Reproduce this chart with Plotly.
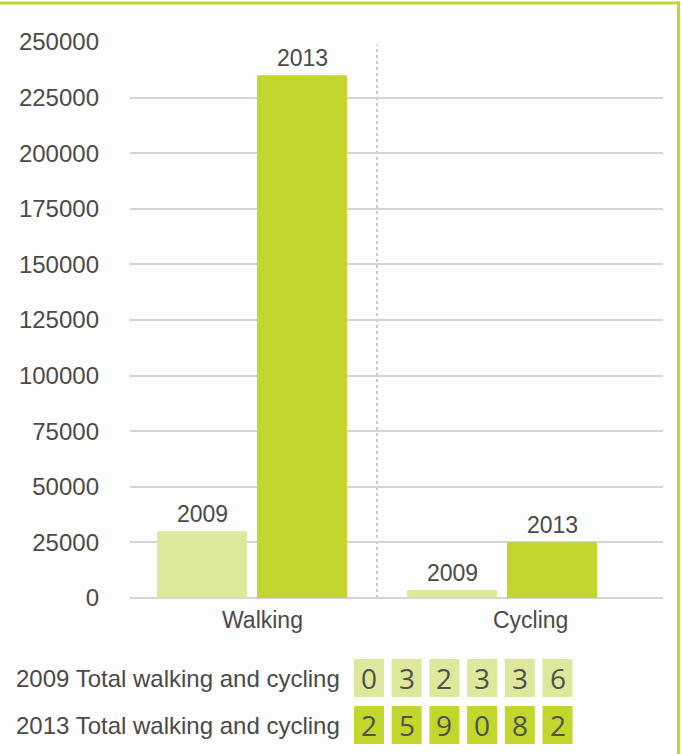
import plotly.graph_objects as go

categories = ["Walking", "Cycling"]
years = ["2009", "2013"]
values_2009 = [30000, 3600]
values_2013 = [235000, 25100]
y_ticks = [0, 25000, 50000, 75000, 100000, 125000, 150000, 175000, 200000, 225000, 250000]
total_labels = ["2009 Total walking and cycling", "2013 Total walking and cycling"]
total_digits = ["032336", "259082"]

LIGHT = "#dde89c"
DARK = "#c2d62e"
TXT = "#4a4a4a"
FONT = "Liberation Sans, Arial, sans-serif"
FS = 23

W, H = 682, 754
L, R, T, B = 130, 19, 42, 156
PW, PH = W - L - R, H - T - B


def px(x):
    return (x - L) / PW


def py(y):
    return (H - B - y) / PH


xs = list(range(len(categories)))
fig = go.Figure()
for name, vals, col in [(years[0], values_2009, LIGHT), (years[1], values_2013, DARK)]:
    fig.add_trace(go.Bar(x=xs, y=vals, name=name, marker=dict(color=col, line=dict(width=0)),
                         hoverinfo="y"))

annotations = []
# year labels above bars
for j, (name, vals) in enumerate([(years[0], values_2009), (years[1], values_2013)]):
    off = -0.2 if j == 0 else 0.2
    for i, v in enumerate(vals):
        annotations.append(dict(x=xs[i] + off, y=v, xref="x", yref="y", text=name,
                                showarrow=False, yanchor="bottom", yshift=2,
                                font=dict(size=FS, color=TXT, family=FONT)))
# category labels
cat_shift = [10, 28]
for i, c in enumerate(categories):
    annotations.append(dict(x=xs[i], y=0, xref="x", yref="y", text=c, showarrow=False,
                            yanchor="middle", yshift=-22, xshift=cat_shift[i],
                            font=dict(size=FS, color=TXT, family=FONT)))

shapes = []
# dotted divider
shapes.append(dict(type="line", xref="x", yref="paper", x0=0.5, x1=0.5, y0=0, y1=0.995,
                   line=dict(color="#c8c8c8", width=2, dash="dot"), layer="below"))
# green border top and right
shapes.append(dict(type="line", xref="paper", yref="paper", x0=px(0), x1=px(680),
                   y0=py(3), y1=py(3), line=dict(color=DARK, width=3)))
shapes.append(dict(type="line", xref="paper", yref="paper", x0=px(678.5), x1=px(678.5),
                   y0=py(1.5), y1=py(H + 5), line=dict(color=DARK, width=3)))

# totals rows
row_tops = [659, 706]
row_h = 38
box_x0, box_w, box_pitch = 354, 30, 37.7
row_cols = [LIGHT, DARK]
for r, (lab, digs) in enumerate(zip(total_labels, total_digits)):
    yc = row_tops[r] + row_h / 2
    annotations.append(dict(x=px(14), y=py(yc), xref="paper", yref="paper", text=lab,
                            showarrow=False, xanchor="left", yanchor="middle",
                            font=dict(size=FS + 1, color=TXT, family=FONT)))
    for k, d in enumerate(digs):
        x0 = box_x0 + k * box_pitch
        shapes.append(dict(type="rect", xref="paper", yref="paper", x0=px(x0), x1=px(x0 + box_w),
                           y0=py(row_tops[r] + row_h), y1=py(row_tops[r]),
                           fillcolor=row_cols[r], line=dict(width=0)))
        annotations.append(dict(x=px(x0 + box_w / 2), y=py(yc), xref="paper", yref="paper",
                                text=d, showarrow=False, xanchor="center", yanchor="middle",
                                font=dict(size=28, color="#505050", family="Open Sans, sans-serif")))

fig.update_layout(
    width=W, height=H,
    margin=dict(l=L, r=R, t=T, b=B),
    paper_bgcolor="#fdfdfd", plot_bgcolor="#fdfdfd",
    barmode="group", bargap=0.2, bargroupgap=0.1,
    showlegend=False,
    font=dict(family=FONT, color=TXT, size=FS),
    xaxis=dict(range=[-0.488, 1.644], showticklabels=False, showgrid=False, zeroline=False,
               fixedrange=True),
    yaxis=dict(range=[0, 250000], tickvals=y_ticks, ticktext=[str(t) for t in y_ticks],
               showgrid=True, gridcolor="#d4d4d4", gridwidth=2, zeroline=True,
               zerolinecolor="#d4d4d4", zerolinewidth=2, ticklabelstandoff=30,
               tickfont=dict(size=FS + 1, color=TXT, family=FONT), fixedrange=True),
    shapes=shapes, annotations=annotations,
)

fig.write_html("out.html", config={"displayModeBar": False},
               post_script="document.body.style.margin='0';")
